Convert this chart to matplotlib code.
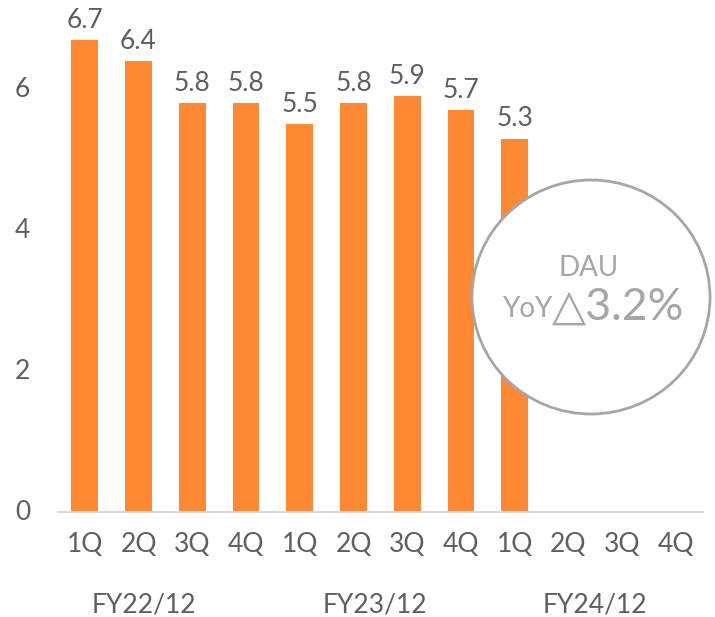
import matplotlib

matplotlib.use("Agg")
import matplotlib.pyplot as plt
from matplotlib.patches import Ellipse

plt.rcParams["font.family"] = ["Lato", "DejaVu Sans"]

quarters = ["1Q", "2Q", "3Q", "4Q", "1Q", "2Q", "3Q", "4Q", "1Q", "2Q", "3Q", "4Q"]
dau = [6.7, 6.4, 5.8, 5.8, 5.5, 5.8, 5.9, 5.7, 5.3]
years = ["FY22/12", "FY23/12", "FY24/12"]
year_pos = [1.1, 5.4, 9.5]

BAR = "#FF8833"
INK = "#5E5E5E"
CIRCLE = "#A6A6A6"

fig = plt.figure(figsize=(7.15, 6.17), dpi=100)
ax = fig.add_axes([0.081, 0.170, 0.902, 0.794])

x = list(range(len(dau)))
ax.bar(x, dau, 0.5, color=BAR, zorder=2)
for xi, v in zip(x, dau):
    ax.text(xi, v + 0.1, f"{v:.1f}", ha="center", va="bottom",
            fontsize=19, color=INK)

ax.set_xlim(-0.5, len(quarters) - 0.5)
ax.set_ylim(0, 6.95)
ax.set_xticks(range(len(quarters)))
ax.set_xticklabels(quarters)
ax.set_yticks([0, 2, 4, 6])
ax.tick_params(axis="both", length=0, labelsize=19, colors=INK)
ax.tick_params(axis="x", pad=14)
ax.tick_params(axis="y", pad=20)
for lbl in ax.get_yticklabels():
    lbl.set_verticalalignment("center")
for s in ("top", "right", "left"):
    ax.spines[s].set_visible(False)
ax.spines["bottom"].set_color("#D9D9D9")
ax.spines["bottom"].set_linewidth(1.5)

for pos, name in zip(year_pos, years):
    ax.text(pos, -1.32, name, ha="center", va="center", fontsize=19,
            color=INK)

# callout circle, drawn in figure pixels so it stays round
circ = Ellipse((591 / 715, 1 - 297 / 617), 2 * 119 / 715, 2 * 117 / 617,
               transform=fig.transFigure, facecolor="white",
               edgecolor=CIRCLE, linewidth=2, zorder=5)
fig.patches.append(circ)
fig.text(589 / 715, 1 - 268 / 617, "DAU", ha="center", va="center",
         fontsize=20, color=CIRCLE, zorder=6)
fig.text(552 / 715, 1 - 309 / 617, "YoY", ha="right", va="center",
         fontsize=20, color=CIRCLE, zorder=6)
fig.text(552 / 715, 1 - 307 / 617, "△3.2%", ha="left", va="center",
         fontsize=32, color=CIRCLE, zorder=6)

fig.savefig("out.png", dpi=100, facecolor="white")
